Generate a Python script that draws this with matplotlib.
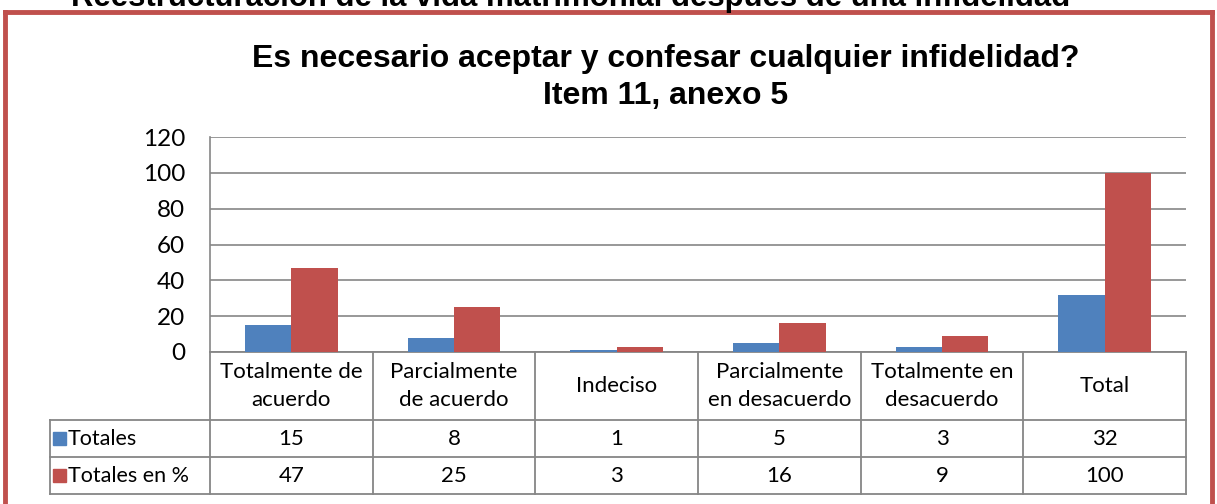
import matplotlib
matplotlib.use("Agg")
import matplotlib.pyplot as plt
from matplotlib.patches import Rectangle
import numpy as np

categories = ["Totalmente de\nacuerdo", "Parcialmente\nde acuerdo", "Indeciso",
              "Parcialmente\nen desacuerdo", "Totalmente en\ndesacuerdo", "Total"]
series_names = ["Totales", "Totales en %"]
totales = [15, 8, 1, 5, 3, 32]
totales_pct = [47, 25, 3, 16, 9, 100]
yticks = [0, 20, 40, 60, 80, 100, 120]
title_lines = ["Es necesario aceptar y confesar cualquier infidelidad?", "Item 11, anexo 5"]
top_text = "Reestructuración de la vida matrimonial después de una infidelidad"

BLUE = "#4F81BD"
RED = "#C0504D"
GRID = "#868686"
W, H = 1217, 504

fig = plt.figure(figsize=(W / 100, H / 100), dpi=100)

# overlay in pixel coordinates
ov = fig.add_axes([0, 0, 1, 1])
ov.set_xlim(0, W)
ov.set_ylim(H, 0)
ov.axis("off")

# plot area
px0, px1, py_top, py_bot = 210, 1186, 137, 352
ax = fig.add_axes([px0 / W, (H - py_bot) / H, (px1 - px0) / W, (py_bot - py_top) / H])
n = len(categories)
x = np.arange(n)
bw = 1 / 3.5
ax.bar(x - bw / 2, totales, width=bw, color=BLUE, zorder=3)
ax.bar(x + bw / 2, totales_pct, width=bw, color=RED, zorder=3)
ax.set_xlim(-0.5, n - 0.5)
ax.set_ylim(0, 120)
ax.set_yticks(yticks)
ax.set_yticklabels([str(v) for v in yticks], fontsize=17.5, family="Lato")
ax.tick_params(axis="y", length=0, pad=18)
ax.set_xticks([])
ax.grid(axis="y", color=GRID, linewidth=1.2, zorder=0)
for s in ["top", "right", "bottom"]:
    ax.spines[s].set_visible(False)
ax.spines["left"].set_color(GRID)
ax.spines["left"].set_linewidth(1.2)
ax.set_facecolor("none")

# table
col_edges = [px0 + (px1 - px0) * i / n for i in range(n + 1)]
row_y = [352, 420, 457, 494]
lc = dict(color=GRID, linewidth=1.3)
ov.plot([px0, px1], [352, 352], **lc)
for ry in row_y[1:]:
    ov.plot([50, px1], [ry, ry], **lc)
for cx in col_edges:
    ov.plot([cx, cx], [352, 494], **lc)
ov.plot([50, 50], [420, 494], **lc)

tfont = dict(fontsize=16, family="Lato", color="black", ha="center", va="center")
for i, cat in enumerate(categories):
    cx = (col_edges[i] + col_edges[i + 1]) / 2
    ov.text(cx, 386, cat, linespacing=1.45, **tfont)
    ov.text(cx, 439, str(totales[i]), **tfont)
    ov.text(cx, 476, str(totales_pct[i]), **tfont)

for name, color, cy in [(series_names[0], BLUE, 439), (series_names[1], RED, 476)]:
    ov.add_patch(Rectangle((53, cy - 7), 13, 13, color=color))
    ov.text(68, cy, name, fontsize=15.5, family="Lato", ha="left", va="center")

# title
for line, by in zip(title_lines, [67, 104]):
    ov.text(666, by, line, fontsize=23, fontweight="bold", family="Liberation Sans",
            ha="center", va="baseline")

# cut-off heading above frame
ov.text(571, 6, top_text, fontsize=22.4, fontweight="bold", family="Liberation Sans",
        ha="center", va="baseline")

# red frame
fc = dict(color=RED, linewidth=3.5, solid_capstyle="projecting")
ov.plot([5, 1212], [12, 12], **fc)
ov.plot([5, 5], [12, H + 5], **fc)
ov.plot([1212, 1212], [12, H + 5], **fc)

fig.savefig("out.png", dpi=100)
